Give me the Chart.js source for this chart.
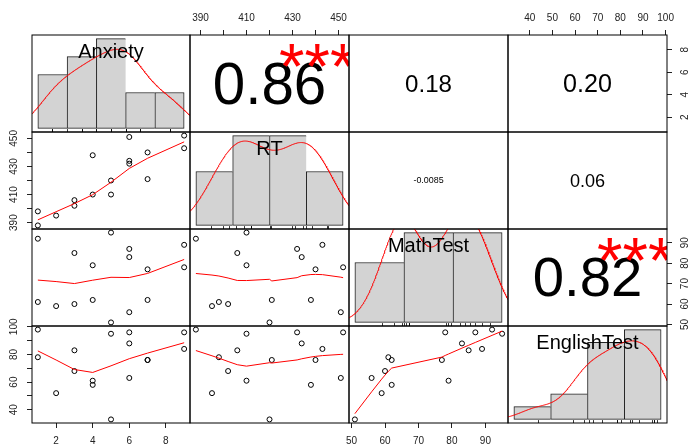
<!DOCTYPE html>
<html>
<head>
<meta charset="utf-8">
<title>Correlation matrix</title>
<script src="https://cdn.jsdelivr.net/npm/chart.js@4.4.1/dist/chart.umd.min.js"></script>
<style>
  body { margin: 0; background: #fff; }
  #matrix { position: relative; width: 692px; height: 448px; }
  #matrix canvas { position: absolute; left: 0; top: 0; }
</style>
</head>
<body>
<div id="matrix"></div>
<script>
// One value per student, same order in every array
const varNames = ['Anxiety', 'RT', 'MathTest', 'EnglishTest'];
const anxiety = [1, 1, 2, 3, 3, 4, 4, 5, 5, 6, 6, 6, 7, 7, 9, 9];
const rt = [388, 398, 395, 406, 402, 438, 410, 410, 420, 451, 434, 432, 421, 440, 452, 443];
const mathTest = [92, 61, 59, 85, 60, 62, 79, 95, 51, 56, 83, 87, 62, 77, 78, 89];
const englishTest = [98, 78, 52, 83, 68, 58, 61, 95, 33, 63, 88, 96, 76, 76, 96, 84];

// Histogram breaks on the diagonal
const anxietyBreaks = [0, 2, 4, 6, 8, 10];
const rtBreaks = [380, 400, 420, 440, 460];
const mathBreaks = [40, 60, 80, 100];
const englishBreaks = [20, 40, 60, 80, 100];

// Correlations printed above the diagonal: (0,1) (0,2) (0,3) (1,2) (1,3) (2,3)
const corrText = ['0.86', '0.18', '0.20', '-0.0085', '0.06', '0.82'];
const corrStars = ['***', '', '', '', '', '***'];

// Tick spacing per variable and the labels kept on each outer axis
const tickSteps = [2, 10, 10, 10];
const anxietyTicks = [2, 4, 6, 8];
const rtTicks = [390, 410, 430, 450];
const mathTicks = [50, 60, 70, 80, 90];
const englishTopTicks = [40, 50, 60, 70, 80, 90, 100];
const englishLeftTicks = [40, 60, 80, 100];

const vars = [anxiety, rt, mathTest, englishTest];
const breaks = [anxietyBreaks, rtBreaks, mathBreaks, englishBreaks];
const axisLabels = {
    top: [null, rtTicks, null, englishTopTicks],
    bottom: [anxietyTicks, null, mathTicks, null],
    left: [null, rtTicks, null, englishLeftTicks],
    right: [anxietyTicks, null, mathTicks, null]
};
const corrPairs = [[0, 1], [0, 2], [0, 3], [1, 2], [1, 3], [2, 3]];

const W = 692, H = 448;
const colEdges = [32, 190, 349, 508, 667];
const rowEdges = [35, 132, 229, 326, 423];
const FONT = '"Liberation Sans", Arial, sans-serif';

// axis range like R: data range plus 4% each side
function lims(v) {
    const lo = Math.min(...v), hi = Math.max(...v), d = (hi - lo) * 0.04;
    return [lo - d, hi + d];
}

function histogram(v, br) {
    const counts = br.slice(1).map(() => 0);
    v.forEach(x => {
        for (let k = 0; k < counts.length; k++) {
            const inLow = k === 0 ? x >= br[0] : x > br[k];
            if (inLow && x <= br[k + 1]) { counts[k]++; break; }
        }
    });
    return counts.map((n, k) => ({
        x: (br[k] + br[k + 1]) / 2,
        y: n / (v.length * (br[k + 1] - br[k]))
    }));
}

function bwNrd0(v) {
    const n = v.length;
    const mean = v.reduce((a, b) => a + b, 0) / n;
    const sd = Math.sqrt(v.reduce((a, b) => a + (b - mean) ** 2, 0) / (n - 1));
    const s = [...v].sort((a, b) => a - b);
    const q = p => {
        const h = (n - 1) * p, lo = Math.floor(h);
        return s[lo] + (h - lo) * (s[Math.min(lo + 1, n - 1)] - s[lo]);
    };
    const lo = Math.min(sd, (q(0.75) - q(0.25)) / 1.34);
    return 0.9 * lo * Math.pow(n, -0.2);
}

// gaussian kernel density, same grid as R's density()
function density(v) {
    const bw = bwNrd0(v);
    const lo = Math.min(...v) - 3 * bw, hi = Math.max(...v) + 3 * bw;
    const pts = [];
    for (let i = 0; i < 512; i++) {
        const x = lo + (hi - lo) * i / 511;
        let s = 0;
        v.forEach(xi => { const z = (x - xi) / bw; s += Math.exp(-0.5 * z * z); });
        pts.push({ x: x, y: s / (v.length * bw * Math.sqrt(2 * Math.PI)) });
    }
    return pts;
}

// port of R's clowess (f = 2/3, 3 robustness steps)
function lowess(xIn, yIn, f = 2 / 3, nsteps = 3) {
    const n = xIn.length;
    const idx = xIn.map((v, i) => i).sort((a, b) => (xIn[a] - xIn[b]) || (a - b));
    const x = [0].concat(idx.map(i => xIn[i]));
    const y = [0].concat(idx.map(i => yIn[i]));
    const ys = new Array(n + 1).fill(0), rw = new Array(n + 1).fill(0), res = new Array(n + 1).fill(0);
    const range = x[n] - x[1];
    const delta = 0.01 * range;
    const ns = Math.max(2, Math.min(n, Math.floor(f * n + 1e-7)));

    function lowest(xs, nleft, nright, userw) {
        const w = res;
        const h = Math.max(xs - x[nleft], x[nright] - xs);
        const h9 = 0.999 * h, h1 = 0.001 * h;
        let a = 0, j = nleft;
        while (j <= n) {
            w[j] = 0;
            const r = Math.abs(x[j] - xs);
            if (r <= h9) {
                w[j] = r <= h1 ? 1 : Math.pow(1 - Math.pow(r / h, 3), 3);
                if (userw) w[j] *= rw[j];
                a += w[j];
            } else if (x[j] > xs) break;
            j++;
        }
        const nrt = j - 1;
        if (a <= 0) return null;
        for (j = nleft; j <= nrt; j++) w[j] /= a;
        if (h > 0) {
            a = 0;
            for (j = nleft; j <= nrt; j++) a += w[j] * x[j];
            let b = xs - a, c = 0;
            for (j = nleft; j <= nrt; j++) c += w[j] * (x[j] - a) * (x[j] - a);
            if (Math.sqrt(c) > 0.001 * range) {
                b /= c;
                for (j = nleft; j <= nrt; j++) w[j] *= (b * (x[j] - a) + 1);
            }
        }
        let s = 0;
        for (j = nleft; j <= nrt; j++) s += w[j] * y[j];
        return s;
    }

    let iter = 1;
    while (iter <= nsteps + 1) {
        let nleft = 1, nright = ns, last = 0, i = 1;
        for (;;) {
            if (nright < n) {
                const d1 = x[i] - x[nleft], d2 = x[nright + 1] - x[i];
                if (d1 > d2) { nleft++; nright++; continue; }
            }
            const v = lowest(x[i], nleft, nright, iter > 1);
            ys[i] = v === null ? y[i] : v;
            if (last < i - 1) {
                const denom = x[i] - x[last];
                for (let j = last + 1; j < i; j++) {
                    const alpha = (x[j] - x[last]) / denom;
                    ys[j] = alpha * ys[i] + (1 - alpha) * ys[last];
                }
            }
            last = i;
            const cut = x[last] + delta;
            for (i = last + 1; i <= n; i++) {
                if (x[i] > cut) break;
                if (x[i] === x[last]) { ys[i] = ys[last]; last = i; }
            }
            i = Math.max(last + 1, i - 1);
            if (last >= n) break;
        }
        for (let k = 1; k <= n; k++) res[k] = y[k] - ys[k];
        let sc = 0;
        for (let k = 1; k <= n; k++) sc += Math.abs(res[k]);
        sc /= n;
        if (iter > nsteps) break;
        const sorted = res.slice(1).map(Math.abs).sort((a, b) => a - b);
        const m1 = Math.floor(n / 2);
        const cmad = n % 2 === 0 ? 3 * (sorted[m1] + sorted[n - m1 - 1]) : 6 * sorted[m1];
        if (cmad < 1e-7 * sc) break;
        const c9 = 0.999 * cmad, c1 = 0.001 * cmad;
        for (let k = 1; k <= n; k++) {
            const r = Math.abs(res[k]);
            rw[k] = r <= c1 ? 1 : (r <= c9 ? Math.pow(1 - Math.pow(r / cmad, 2), 2) : 0);
        }
        iter++;
    }
    return x.slice(1).map((xv, k) => ({ x: xv, y: ys[k + 1] }));
}

// text whose inked box is centred on (x, y)
function centredText(ctx, txt, x, y) {
    const m = ctx.measureText(txt);
    ctx.fillText(txt, x, y + (m.actualBoundingBoxAscent - m.actualBoundingBoxDescent) / 2);
}

// Draws rug, variable name, correlation text, rotated y labels and the panel box
const panelDecor = {
    id: 'panelDecor',
    afterDraw(chart, args, o) {
        const { ctx, chartArea: a } = chart;
        const w = a.right - a.left, h = a.bottom - a.top;
        ctx.save();

        if (o.rug) {
            ctx.strokeStyle = '#000';
            ctx.lineWidth = 0.8;
            o.rug.forEach(v => {
                const px = Math.round(chart.scales.x.getPixelForValue(v)) + 0.5;
                ctx.beginPath();
                ctx.moveTo(px, a.bottom);
                ctx.lineTo(px, a.bottom - 0.03 * h);
                ctx.stroke();
            });
        }

        if (o.name) {
            ctx.font = '20px ' + FONT;
            ctx.fillStyle = '#000';
            ctx.textAlign = 'center';
            ctx.textBaseline = 'alphabetic';
            ctx.fillText(o.name, a.left + w / 2, a.top + h / 6 + 7.2);
        }

        if (o.corr) {
            ctx.save();
            ctx.beginPath();
            ctx.rect(a.left, a.top, w, h);
            ctx.clip();
            ctx.font = '100px ' + FONT;
            const base = 0.8 * w / ctx.measureText(o.corr).width * 100;
            const size = base * (Math.abs(parseFloat(o.corr)) + 0.3) / 1.3;
            ctx.textAlign = 'center';
            ctx.textBaseline = 'alphabetic';
            ctx.fillStyle = '#000';
            ctx.font = size + 'px ' + FONT;
            centredText(ctx, o.corr, a.left + 0.5 * w, a.top + 0.5 * h - 0.5);
            if (o.stars) {
                ctx.font = base + 'px ' + FONT;
                ctx.fillStyle = '#FF0000';
                centredText(ctx, o.stars, a.left + 0.8 * w, a.bottom - 0.8 * h + 1.5);
            }
            ctx.restore();
        }

        if (o.yLabels) {
            const sc = chart.scales.y;
            ctx.font = '10px ' + FONT;
            ctx.fillStyle = '#222';
            ctx.textAlign = 'center';
            ctx.textBaseline = 'middle';
            sc.ticks.forEach(t => {
                if (!o.yLabels.labels.includes(t.value)) return;
                const px = o.yLabels.side === 'left' ? a.left - 18 : a.right + 18;
                ctx.save();
                ctx.translate(px, sc.getPixelForValue(t.value));
                ctx.rotate(-Math.PI / 2);
                ctx.fillText(String(t.value), 0, 0);
                ctx.restore();
            });
        }

        ctx.strokeStyle = '#000';
        ctx.lineWidth = 1;
        ctx.strokeRect(a.left, a.top, w, h);
        ctx.restore();
    }
};
Chart.register(panelDecor);

function axisScale(axis, pos, range, step, labels, size) {
    const shown = labels !== null;
    const s = {
        type: 'linear',
        position: pos,
        min: range[0],
        max: range[1],
        display: shown,
        offset: false,
        grid: { drawOnChartArea: false, drawTicks: true, tickLength: 5, color: '#222', lineWidth: 1 },
        border: { display: false },
        ticks: {
            stepSize: step,
            includeBounds: false,
            autoSkip: false,
            maxRotation: 0,
            minRotation: 0,
            display: axis === 'x',
            color: '#222',
            font: { family: FONT, size: 10 },
            padding: pos === 'top' ? 6 : 7,
            callback: v => (shown && labels.includes(v)) ? String(v) : ''
        }
    };
    if (shown) {
        s.afterFit = sc => {
            if (axis === 'x') sc.height = size; else sc.width = size;
            sc.paddingLeft = sc.paddingRight = sc.paddingTop = sc.paddingBottom = 0;
        };
    }
    return s;
}

const wrap = document.getElementById('matrix');

for (let r = 0; r < 4; r++) {
    for (let c = 0; c < 4; c++) {
        const canvas = document.createElement('canvas');
        canvas.width = W;
        canvas.height = H;
        wrap.appendChild(canvas);

        const L = colEdges[c], R = colEdges[c + 1], T = rowEdges[r], B = rowEdges[r + 1];
        const topLab = r === 0 ? axisLabels.top[c] : null;
        const botLab = r === 3 ? axisLabels.bottom[c] : null;
        const leftLab = c === 0 ? axisLabels.left[r] : null;
        const rightLab = c === 3 ? axisLabels.right[r] : null;

        const padding = {
            left: leftLab ? 0 : L,
            right: rightLab ? 0 : W - R,
            top: topLab ? 0 : T,
            bottom: botLab ? 0 : H - B
        };
        const decor = {};
        let type, datasets, scales;

        if (r === c) {
            const v = vars[c], br = breaks[c];
            const hist = histogram(v, br);
            const maxD = Math.max(...hist.map(p => p.y));
            const span = br[br.length - 1] - br[0];
            type = 'bar';
            datasets = [
                { type: 'line', data: density(v), borderColor: '#FF0000', borderWidth: 1,
                  pointRadius: 0, tension: 0, fill: false, order: 0 },
                { type: 'bar', data: hist, backgroundColor: '#D3D3D3', borderColor: '#222',
                  borderWidth: ctx => ctx.dataIndex === hist.length - 1 ? 1 : { top: 1, left: 1, bottom: 1, right: 0 },
                  borderSkipped: false, barPercentage: 1, categoryPercentage: 1, order: 1 }
            ];
            scales = {
                x: { type: 'linear', display: false, offset: false,
                     min: br[0] - 0.04 * span, max: br[br.length - 1] + 0.04 * span,
                     ticks: { stepSize: br[1] - br[0], includeBounds: false } },
                y: { type: 'linear', display: false, min: -0.04 * maxD, max: 1.04 * maxD }
            };
            decor.rug = v;
            decor.name = varNames[c];
        } else {
            const xPos = r === 0 ? 'top' : 'bottom';
            const xLab = r === 0 ? topLab : botLab;
            const yPos = c === 0 ? 'left' : 'right';
            const yLab = c === 0 ? leftLab : rightLab;
            scales = {
                x: axisScale('x', xPos, lims(vars[c]), tickSteps[c], xLab, xPos === 'top' ? T : H - B),
                y: axisScale('y', yPos, lims(vars[r]), tickSteps[r], yLab, yPos === 'left' ? L : W - R)
            };
            if (yLab) decor.yLabels = { side: yPos, labels: yLab };
            type = 'scatter';
            if (r > c) {
                const xv = vars[c], yv = vars[r];
                datasets = [
                    { data: lowess(xv, yv), showLine: true, borderColor: '#FF0000', borderWidth: 1,
                      pointRadius: 0, tension: 0 },
                    { data: xv.map((x, k) => ({ x: x, y: yv[k] })), pointRadius: 2.5,
                      pointBorderWidth: 1, pointBorderColor: '#000', pointBackgroundColor: 'rgba(0,0,0,0)' }
                ];
            } else {
                const k = corrPairs.findIndex(p => p[0] === r && p[1] === c);
                datasets = [];
                decor.corr = corrText[k];
                decor.stars = corrStars[k];
            }
        }

        new Chart(canvas, {
            type: type,
            data: { datasets: datasets },
            options: {
                responsive: false,
                animation: false,
                events: [],
                layout: { padding: padding },
                plugins: {
                    legend: { display: false },
                    tooltip: { enabled: false },
                    panelDecor: decor
                },
                scales: scales
            }
        });
    }
}
</script>
</body>
</html>
